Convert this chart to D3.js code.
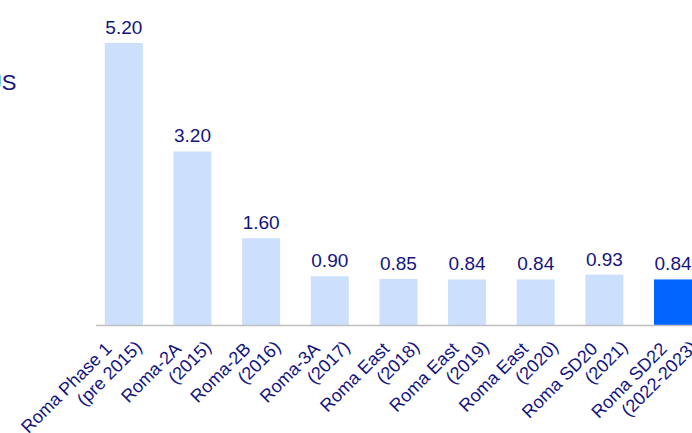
<!DOCTYPE html>
<html>
<head>
<meta charset="utf-8">
<script src="https://cdn.jsdelivr.net/npm/d3@7"></script>
<style>
  html, body { margin: 0; padding: 0; background: #ffffff; overflow: hidden; }
  svg { display: block; font-family: Arial, "Liberation Sans", sans-serif; }
</style>
</head>
<body>
<svg id="chart" width="692" height="433"></svg>
<script>
const categoriesLine1 = ["Roma Phase 1", "Roma-2A", "Roma-2B", "Roma-3A", "Roma East", "Roma East", "Roma East", "Roma SD20", "Roma SD22"];
const categoriesLine2 = ["(pre 2015)", "(2015)", "(2016)", "(2017)", "(2018)", "(2019)", "(2020)", "(2021)", "(2022-2023)"];
const values = [5.20, 3.20, 1.60, 0.90, 0.85, 0.84, 0.84, 0.93, 0.84];
const highlighted = [false, false, false, false, false, false, false, false, true];
const unitLabel = "US";

const W = 692, H = 433;
const textColor = "#14147f";
const lightBar = "#cce0fe";
const darkBar = "#0066ff";
const axisColor = "#c0c0c0";

const svg = d3.select("#chart");
const idx = d3.range(values.length);

const x = d3.scaleBand()
  .domain(idx)
  .range([89.5, 707.35])
  .paddingInner(0.446)
  .paddingOuter(0.223);

// labels sit on a slightly wider spacing than the bars
const labelShift = d3.scaleLinear().domain([0, values.length - 1]).range([-11, -5]);

const baseY = 325;
const y = d3.scaleLinear().domain([0, 5.2]).range([baseY, 43]);

// unit label (partially cut off at left)
svg.append("text")
  .attr("x", 16.5)
  .attr("y", 89.5)
  .attr("text-anchor", "end")
  .attr("fill", textColor)
  .attr("font-size", 22)
  .text(unitLabel);

// bars
svg.append("g").selectAll("rect")
  .data(idx)
  .join("rect")
  .attr("x", i => x(i))
  .attr("width", x.bandwidth())
  .attr("y", i => y(values[i]))
  .attr("height", i => y(0) - y(values[i]))
  .attr("fill", i => highlighted[i] ? darkBar : lightBar);

// axis baseline
svg.append("line")
  .attr("x1", 96).attr("x2", W)
  .attr("y1", baseY + 0.5).attr("y2", baseY + 0.5)
  .attr("stroke", axisColor)
  .attr("stroke-width", 1.5);

// value labels
svg.append("g").selectAll("text")
  .data(idx)
  .join("text")
  .attr("x", i => x(i) + x.bandwidth() / 2)
  .attr("y", i => y(values[i]) - 9)
  .attr("text-anchor", "middle")
  .attr("fill", textColor)
  .attr("font-size", 19)
  .text(i => values[i].toFixed(2));

// category labels, rotated -45deg, two lines
const labels = svg.append("g").selectAll("text")
  .data(idx)
  .join("text")
  .attr("transform", i => `translate(${x(i) + x.bandwidth() / 2 + labelShift(i)},${350}) rotate(-45)`)
  .attr("text-anchor", "end")
  .attr("fill", textColor)
  .attr("font-size", 18);

labels.append("tspan")
  .attr("x", 0).attr("y", 0)
  .text(i => categoriesLine1[i]);
labels.append("tspan")
  .attr("x", 22.5).attr("y", 20)
  .text(i => categoriesLine2[i]);
</script>
</body>
</html>
